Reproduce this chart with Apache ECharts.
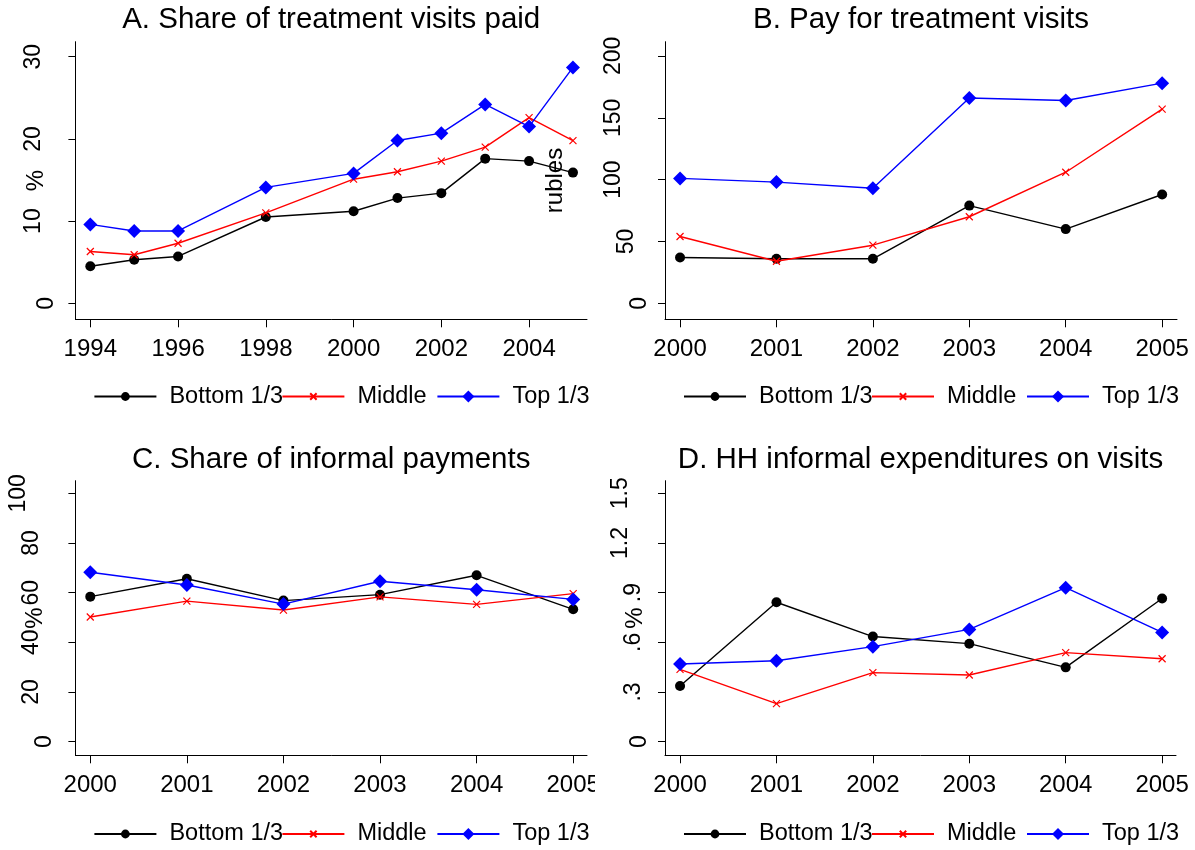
<!DOCTYPE html>
<html>
<head>
<meta charset="utf-8">
<script src="https://cdn.jsdelivr.net/npm/echarts@6.0.0/dist/echarts.min.js"></script>
<style>
html, body { margin: 0; padding: 0; background: #fff; }
#chart { width: 1195px; height: 850px; }
</style>
</head>
<body>
<div id="chart"></div>
<script>
// series names
const seriesNames = ['Bottom 1/3', 'Middle', 'Top 1/3']

// A. share of treatment visits paid (%)
const yearsA = [1994, 1995, 1996, 1998, 2000, 2001, 2002, 2003, 2004, 2005]
const bottomA = [4.5, 5.3, 5.7, 10.5, 11.2, 12.8, 13.4, 17.6, 17.3, 15.9]
const middleA = [6.3, 5.9, 7.3, 11.0, 15.1, 16.0, 17.3, 19.0, 22.6, 19.8]
const topA = [9.6, 8.8, 8.8, 14.1, 15.8, 19.8, 20.7, 24.2, 21.5, 28.7]

// B, C, D use the same years
const years = [2000, 2001, 2002, 2003, 2004, 2005]

// B. pay for treatment visits (rubles)
const bottomB = [37, 36, 36, 79, 60, 88]
const middleB = [54, 34, 47, 70, 106, 157]
const topB = [101, 98, 93, 166, 164, 178]

// C. share of informal payments (%)
const bottomC = [58.4, 65.6, 56.8, 59.2, 67.0, 53.3]
const middleC = [50.2, 56.6, 53.0, 58.3, 55.3, 59.6]
const topC = [68.2, 63.1, 55.4, 64.6, 61.2, 57.3]

// D. HH informal expenditures on visits (%)
const bottomD = [0.336, 0.842, 0.635, 0.592, 0.449, 0.865]
const middleD = [0.437, 0.230, 0.417, 0.403, 0.538, 0.501]
const topD = [0.469, 0.489, 0.574, 0.678, 0.930, 0.660]

// tick labels
const xTicksA = [1994, 1996, 1998, 2000, 2002, 2004]
const xTicks = [2000, 2001, 2002, 2003, 2004, 2005]
const yTicksA = [0, 10, 20, 30]
const yTicksB = [0, 50, 100, 150, 200]
const yTicksC = [0, 20, 40, 60, 80, 100]
const yTicksD = [0, 0.3, 0.6, 0.9, 1.2, 1.5]

const FONT = '"Liberation Sans", Arial, Helvetica, sans-serif'
const colors = ['#000000', '#ff0000', '#0000ff']
const symbols = ['circle', 'path://M0,0L10,10M10,0L0,10', 'diamond']
const symbolSizes = [10, 7, 14]
const legendItemHeights = [11, 8, 15]

const panels = [
  {
    title: 'A. Share of treatment visits paid',
    grid: { left: 75.4, top: 41.7, width: 511.6, height: 277.6 },
    x: [1993.66, 2005.32], y: [-1.95, 31.83],
    xTicks: xTicksA, yTicks: yTicksA, years: yearsA,
    values: [bottomA, middleA, topA],
    yName: '%', nameGap: 27, labelMargin: 17, titleTop: 5, legendTop: 384.5
  },
  {
    title: 'B. Pay for treatment visits',
    grid: { left: 665, top: 41.7, width: 512, height: 277.6 },
    x: [1999.844, 2005.154], y: [-12.9, 211.5],
    xTicks: xTicks, yTicks: yTicksB, years: years,
    values: [bottomB, middleB, topB],
    yName: 'rubles', nameGap: 98, labelMargin: 14, titleTop: 5, legendTop: 384.5
  },
  {
    title: 'C. Share of informal payments',
    grid: { left: 75.4, top: 480.7, width: 511.6, height: 274.6 },
    x: [1999.846, 2005.143], y: [-5.5, 105.1],
    xTicks: xTicks, yTicks: yTicksC, years: years,
    values: [bottomC, middleC, topC],
    yName: '%', nameGap: 28, labelMargin: 19, titleTop: 445, legendTop: 822
  },
  {
    title: 'D. HH informal expenditures on visits',
    grid: { left: 665, top: 480.7, width: 511, height: 274.6 },
    x: [1999.844, 2005.144], y: [-0.082, 1.576],
    xTicks: xTicks, yTicks: yTicksD, years: years,
    values: [bottomD, middleD, topD],
    yName: '%', nameGap: 18, labelMargin: 14, titleTop: 445, legendTop: 822
  }
]

const ctx = document.createElement('canvas').getContext('2d')
function textWidth(s, size) {
  ctx.font = size + 'px ' + FONT
  return ctx.measureText(s).width
}

// Stata style: .3 instead of 0.3
function fmtY(v) {
  if (v === 0) return '0'
  return String(Math.round(v * 10) / 10).replace(/^0\./, '.')
}

const Y_FONT = 23
const option = {
  backgroundColor: '#ffffff',
  animation: false,
  title: [],
  grid: [],
  xAxis: [],
  yAxis: [],
  legend: [],
  series: [],
  graphic: [
    // the last year label of panel C is cut at the panel edge
    { type: 'rect', z: 100, shape: { x: 595, y: 768, width: 9, height: 34 }, style: { fill: '#ffffff' } }
  ]
}

panels.forEach((p, i) => {
  const center = p.grid.left + p.grid.width / 2
  option.title.push({
    text: p.title,
    left: center,
    top: p.titleTop,
    textAlign: 'center',
    textVerticalAlign: 'top',
    padding: 0,
    textStyle: { fontSize: 29.5, fontWeight: 'normal', color: '#000', fontFamily: FONT }
  })

  option.grid.push(Object.assign({ containLabel: false, outerBoundsMode: 'none' }, p.grid))

  option.xAxis.push({
    type: 'value',
    gridIndex: i,
    min: p.x[0],
    max: p.x[1],
    axisLine: { show: true, onZero: false, lineStyle: { color: '#000', width: 1 } },
    axisTick: { show: true, customValues: p.xTicks, length: 8, lineStyle: { color: '#000', width: 1 } },
    axisLabel: {
      customValues: p.xTicks,
      formatter: v => String(Math.round(v)),
      fontSize: 24, color: '#000', fontFamily: FONT, margin: 18
    },
    splitLine: { show: false }
  })

  // labels shift away from the axis by their own length, as in the original
  const rich = {}
  const w0 = textWidth('0', Y_FONT)
  p.yTicks.forEach((v, k) => {
    const pad = Math.max(0, Math.round(textWidth(fmtY(v), Y_FONT) - w0))
    rich['t' + k] = { fontSize: Y_FONT, fontFamily: FONT, color: '#000', padding: [0, 0, pad, 0] }
  })

  option.yAxis.push({
    type: 'value',
    gridIndex: i,
    min: p.y[0],
    max: p.y[1],
    name: p.yName,
    nameLocation: 'middle',
    nameGap: p.nameGap,
    nameRotate: 90,
    nameMoveOverlap: false,
    nameTextStyle: { fontSize: 24, color: '#000', fontFamily: FONT },
    axisLine: { show: true, onZero: false, lineStyle: { color: '#000', width: 1 } },
    axisTick: { show: true, customValues: p.yTicks, length: 7, lineStyle: { color: '#000', width: 1 } },
    axisLabel: {
      customValues: p.yTicks,
      rotate: 90,
      margin: p.labelMargin,
      fontSize: Y_FONT, color: '#000', fontFamily: FONT,
      formatter: v => {
        const k = p.yTicks.findIndex(t => Math.abs(t - v) < 1e-9)
        return '{t' + k + '|' + fmtY(v) + '}'
      },
      rich: rich
    },
    splitLine: { show: false }
  })

  seriesNames.forEach((name, k) => {
    option.series.push({
      type: 'line',
      name: name,
      xAxisIndex: i,
      yAxisIndex: i,
      data: p.years.map((yr, j) => [yr, p.values[k][j]]),
      symbol: symbols[k],
      symbolSize: symbolSizes[k],
      showAllSymbol: true,
      lineStyle: { color: colors[k], width: 1.4 },
      itemStyle: { color: colors[k], borderColor: colors[k], borderWidth: k === 1 ? 1.2 : 0 },
      emphasis: { disabled: true },
      z: 2 + k
    })

    // one legend per item so that each can sit where the original puts it
    const lefts = [p.grid.left + 18, p.grid.left + 206, p.grid.left + 361]
    option.legend.push({
      data: [name],
      left: lefts[k],
      top: p.legendTop,
      padding: 0,
      itemGap: 0,
      itemWidth: 62,
      itemHeight: legendItemHeights[k],
      selectedMode: false,
      textStyle: { fontSize: 23.5, color: '#000', fontFamily: FONT, padding: [0, 0, 0, 8] }
    })
  })
})

const chart = echarts.init(document.getElementById('chart'))
chart.setOption(option)
window.addEventListener('resize', () => chart.resize())
</script>
</body>
</html>
